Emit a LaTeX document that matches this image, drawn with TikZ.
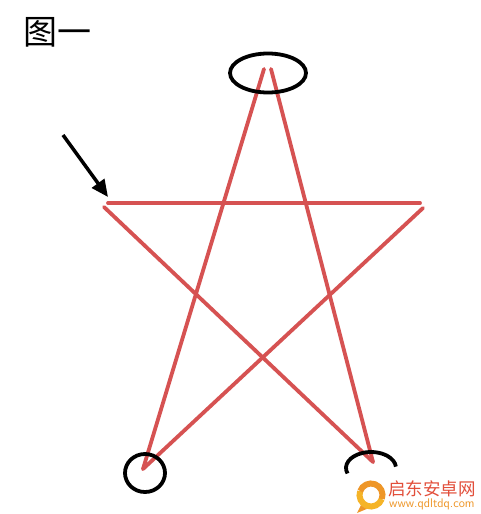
\documentclass[tikz,border=0pt]{standalone}
\usepackage{fontspec}
\newfontfamily\cjk{Noto Sans CJK SC}
\usetikzlibrary{arrows.meta}
\definecolor{starred}{RGB}{214,82,82}
\definecolor{wmorange}{RGB}{238,150,40}
\definecolor{wmyellow}{RGB}{245,180,40}
\definecolor{wmred}{RGB}{226,78,58}
\tikzset{
  starline/.style={draw=starred, line width=3.8pt, line cap=round},
  mark ring/.style={draw=black, line width=3.8pt},
}
\begin{document}
\begin{tikzpicture}[x=1pt,y=-1pt]
\useasboundingbox (0,0) rectangle (481,514);
\fill[white] (0,0) rectangle (481,514);
% title
\node[anchor=west, inner sep=0pt, font=\cjk\fontsize{34}{34}\selectfont] (title) at (23,32) {图一};
% star points
\coordinate (topL) at (264,69);
\coordinate (topR) at (271,69);
\coordinate (bl) at (143,469);
\coordinate (br) at (373,462);
\coordinate (hl) at (108,203);
\coordinate (hr) at (420,203);
\coordinate (dl) at (104,207);
\coordinate (dr) at (423,208);
\draw[starline] (topL) -- (bl);
\draw[starline] (topR) -- (br);
\draw[starline] (hl) -- (hr);
\draw[starline] (dl) -- (br);
\draw[starline] (dr) -- (bl);
% marks
\draw[mark ring] (268,73) ellipse [x radius=38, y radius=19.5];
\draw[mark ring] (145,473) ellipse [x radius=20, y radius=19];
\draw[mark ring] (371,468) ++(160:25 and 16) arc[start angle=160, end angle=355, x radius=25, y radius=16];
% arrow
\coordinate (arrS) at (63,135);
\coordinate (arrE) at (108,197);
\draw[line width=3.5pt, -{Triangle[length=17pt,width=15pt]}] (arrS) -- (arrE);
% watermark
\fill[wmorange] (362,503) -- (357,513) -- (369,508) -- cycle;
\draw[wmyellow, line width=6pt] (371,495) ++(200:11.5) arc[start angle=200, end angle=20, radius=11.5];
\draw[wmorange, line width=6pt] (371,495) ++(20:11.5) arc[start angle=20, end angle=-160, radius=11.5];
\node[anchor=west, inner sep=0pt, text=wmred, font=\cjk\fontsize{17.5}{17.5}\selectfont] (wm1) at (388,489) {启东安卓网};
\node[anchor=west, inner sep=0pt, text=wmorange, font=\sffamily\fontsize{12.5}{12.5}\selectfont] (wm2) at (389,504) {www.qdltdq.com};
\end{tikzpicture}
\end{document}
